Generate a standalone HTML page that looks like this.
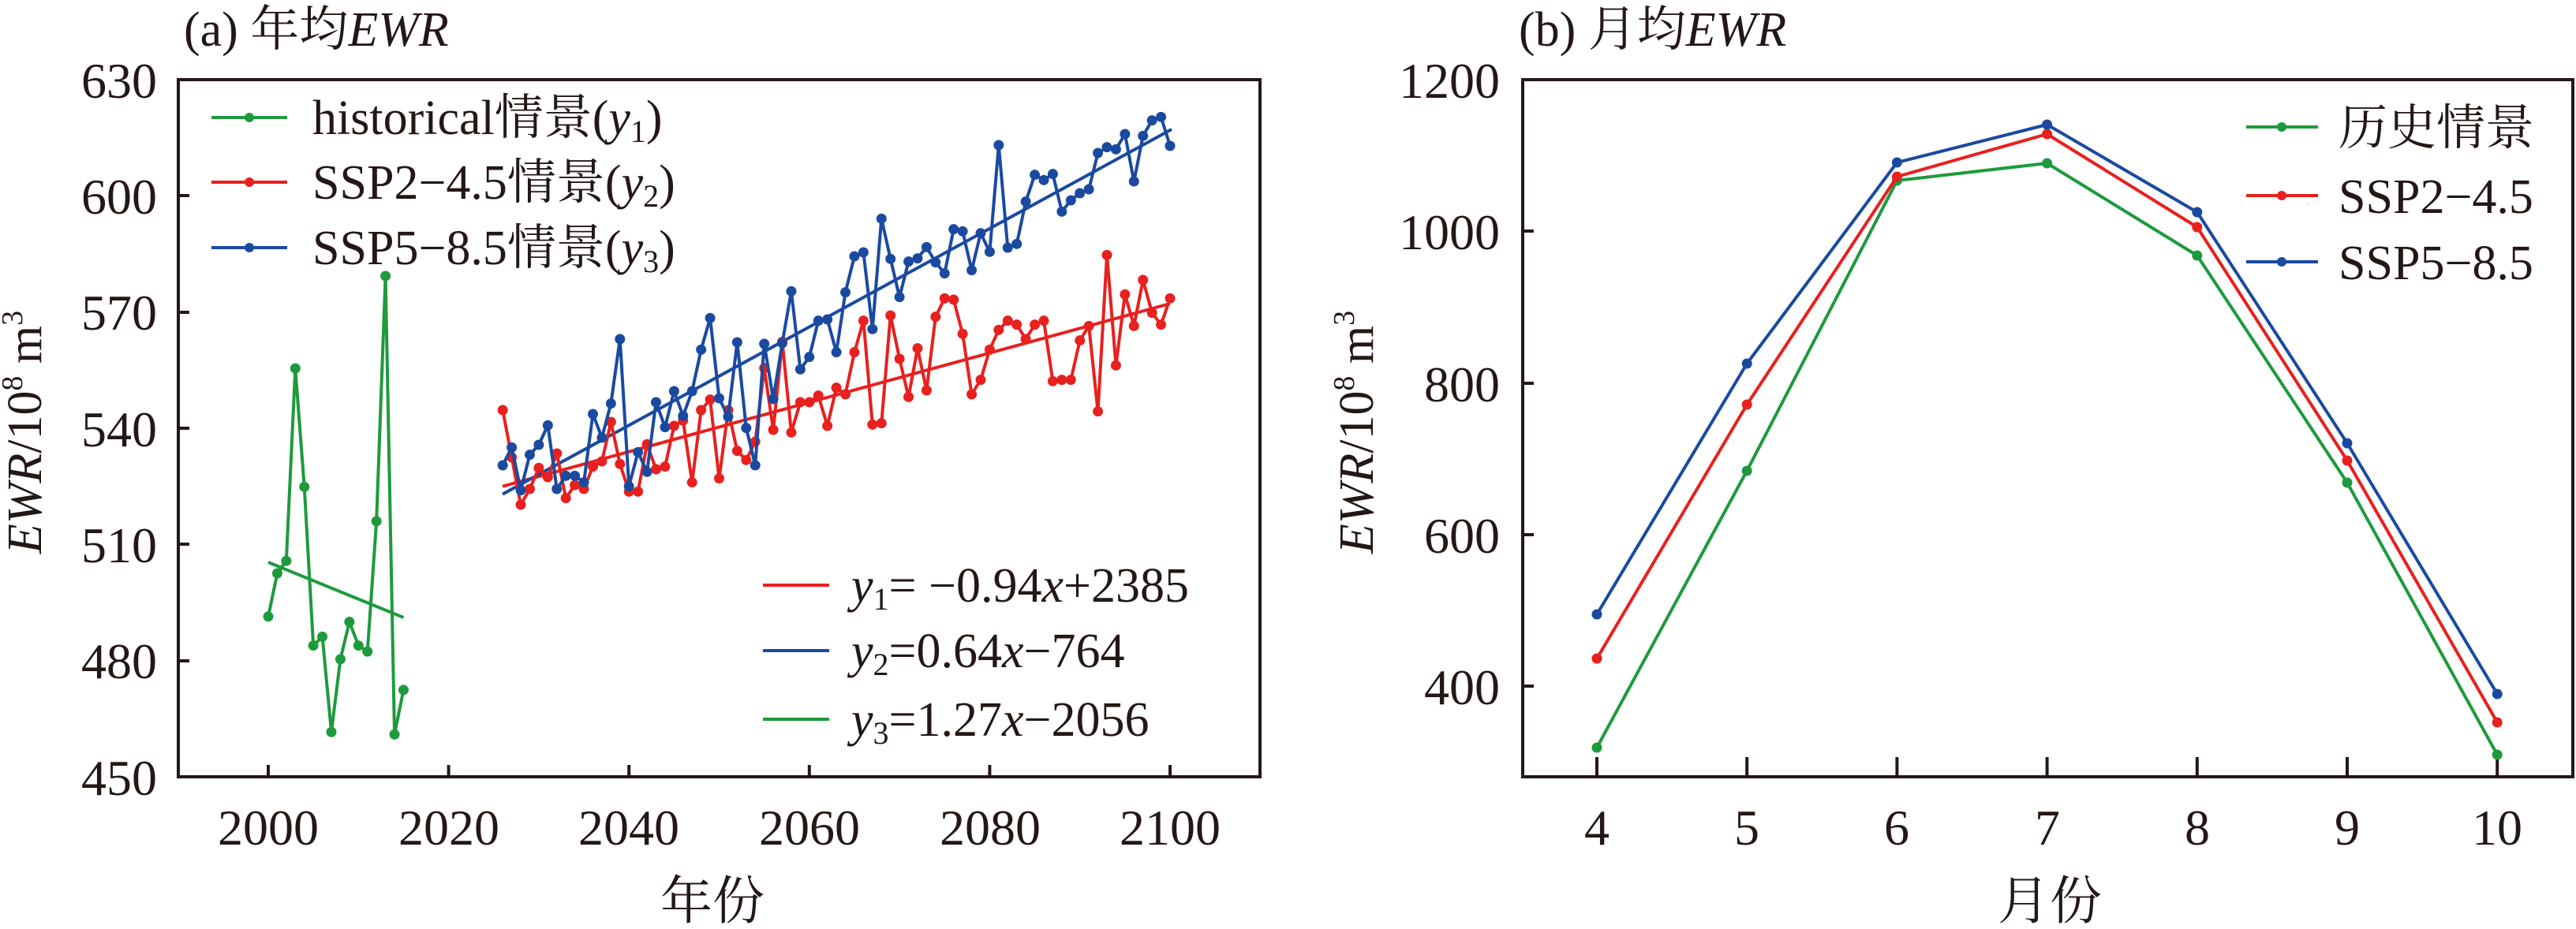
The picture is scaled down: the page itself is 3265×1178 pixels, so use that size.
<!DOCTYPE html>
<html><head><meta charset="utf-8">
<style>
html,body{margin:0;padding:0;background:#fff;}
svg{display:block;}
text{font-family:"Liberation Serif","Noto Serif CJK SC","Noto Sans CJK SC",serif;fill:#231815;}
</style></head>
<body>
<svg id="s" width="3265" height="1178" viewBox="0 0 3265 1178" xmlns="http://www.w3.org/2000/svg">
<g id="g"></g>
<!-- left chart frame -->
<rect x="226" y="101" width="1371" height="884" fill="none" stroke="#231815" stroke-width="4"/>
<rect x="1930" y="101" width="1331" height="884" fill="none" stroke="#231815" stroke-width="4"/>
<!-- titles -->
<text x="233" y="58" font-size="62">(a) 年均<tspan font-style="italic">EWR</tspan></text>
<text x="1925" y="58" font-size="62">(b) 月均<tspan font-style="italic">EWR</tspan></text>
<!-- left y tick labels -->
<g font-size="64" text-anchor="end">
<text x="199" y="124">630</text><text x="199" y="271">600</text><text x="199" y="418">570</text>
<text x="199" y="566">540</text><text x="199" y="713">510</text><text x="199" y="860">480</text><text x="199" y="1008">450</text>
</g>
<g font-size="64" text-anchor="middle">
<text x="340" y="1071">2000</text><text x="569" y="1071">2020</text><text x="797" y="1071">2040</text>
<text x="1026" y="1071">2060</text><text x="1255" y="1071">2080</text><text x="1483" y="1071">2100</text>
<text x="903" y="1165" font-size="66">年份</text>
</g>
<text transform="translate(52,548) rotate(-90)" font-size="62" text-anchor="middle"><tspan font-style="italic">EWR</tspan>/10<tspan font-size="38" dy="-24">8</tspan><tspan dy="24"> m</tspan><tspan font-size="38" dy="-24">3</tspan></text>
<!-- right y ticks -->
<g font-size="64" text-anchor="end">
<text x="1901" y="124">1200</text><text x="1901" y="316">1000</text><text x="1901" y="509">800</text>
<text x="1901" y="701">600</text><text x="1901" y="893">400</text>
</g>
<g font-size="64" text-anchor="middle">
<text x="2024" y="1071">4</text><text x="2214" y="1071">5</text><text x="2404" y="1071">6</text><text x="2595" y="1071">7</text>
<text x="2785" y="1071">8</text><text x="2975" y="1071">9</text><text x="3165" y="1071">10</text>
<text x="2598" y="1165" font-size="66">月份</text>
</g>
<text transform="translate(1740,548) rotate(-90)" font-size="62" text-anchor="middle"><tspan font-style="italic">EWR</tspan>/10<tspan font-size="38" dy="-24">8</tspan><tspan dy="24"> m</tspan><tspan font-size="38" dy="-24">3</tspan></text>
<!-- left legend -->
<g font-size="62">
<line x1="268" y1="149" x2="364" y2="149" stroke="#1e9a3c" stroke-width="4"/><circle cx="316" cy="149" r="6" fill="#1e9a3c"/>
<line x1="268" y1="231" x2="364" y2="231" stroke="#e8201e" stroke-width="4"/><circle cx="316" cy="231" r="6" fill="#e8201e"/>
<line x1="268" y1="314" x2="364" y2="314" stroke="#1a4aa0" stroke-width="4"/><circle cx="316" cy="314" r="6" fill="#1a4aa0"/>
<text x="396" y="170">historical情景(<tspan font-style="italic">y</tspan><tspan font-size="40" dy="10">1</tspan><tspan dy="-10">)</tspan></text>
<text x="396" y="252">SSP2−4.5情景(<tspan font-style="italic">y</tspan><tspan font-size="40" dy="10">2</tspan><tspan dy="-10">)</tspan></text>
<text x="396" y="335">SSP5−8.5情景(<tspan font-style="italic">y</tspan><tspan font-size="40" dy="10">3</tspan><tspan dy="-10">)</tspan></text>
<line x1="967" y1="742" x2="1051" y2="742" stroke="#e8201e" stroke-width="4"/>
<line x1="967" y1="825" x2="1051" y2="825" stroke="#1a4aa0" stroke-width="4"/>
<line x1="967" y1="912" x2="1051" y2="912" stroke="#1e9a3c" stroke-width="4"/>
<text x="1079" y="763"><tspan font-style="italic">y</tspan><tspan font-size="40" dy="10">1</tspan><tspan dy="-10">= −0.94</tspan><tspan font-style="italic">x</tspan>+2385</text>
<text x="1079" y="846"><tspan font-style="italic">y</tspan><tspan font-size="40" dy="10">2</tspan><tspan dy="-10">=0.64</tspan><tspan font-style="italic">x</tspan>−764</text>
<text x="1079" y="933"><tspan font-style="italic">y</tspan><tspan font-size="40" dy="10">3</tspan><tspan dy="-10">=1.27</tspan><tspan font-style="italic">x</tspan>−2056</text>
</g>
<!-- right legend -->
<g font-size="62">
<line x1="2847" y1="161" x2="2938" y2="161" stroke="#1e9a3c" stroke-width="4"/><circle cx="2892" cy="161" r="6" fill="#1e9a3c"/>
<line x1="2847" y1="248" x2="2938" y2="248" stroke="#e8201e" stroke-width="4"/><circle cx="2892" cy="248" r="6" fill="#e8201e"/>
<line x1="2847" y1="332" x2="2938" y2="332" stroke="#1a4aa0" stroke-width="4"/><circle cx="2892" cy="332" r="6" fill="#1a4aa0"/>
<text x="2964" y="183">历史情景</text>
<text x="2964" y="270">SSP2−4.5</text>
<text x="2964" y="354">SSP5−8.5</text>
</g>
</svg>
<script>
var NS="http://www.w3.org/2000/svg",g=document.getElementById("g");
function el(n,a){var e=document.createElementNS(NS,n);for(var k in a)e.setAttribute(k,a[k]);g.appendChild(e);return e;}
function series(pts,c){el("polyline",{points:pts.map(function(p){return p[0]+","+p[1]}).join(" "),fill:"none",stroke:c,"stroke-width":4,"stroke-linejoin":"round"});
pts.forEach(function(p){el("circle",{cx:p[0],cy:p[1],r:6.5,fill:c});});}
var G="#1e9a3c",R="#e8201e",B="#1a4aa0";
function yx(y){return 340+(y-2000)*11.43;}
// ticks
[2000,2020,2040,2060,2080,2100].forEach(function(y){var x=yx(y);el("line",{x1:x,y1:985,x2:x,y2:970,stroke:"#231815","stroke-width":4});});
[101,248,396,543,690,838].forEach(function(y){el("line",{x1:226,y1:y,x2:240,y2:y,stroke:"#231815","stroke-width":4});});
for(var m=0;m<7;m++){var x=2024+m*190.2;el("line",{x1:x,y1:985,x2:x,y2:960,stroke:"#231815","stroke-width":4});}
[101,293,486,678,870].forEach(function(y){el("line",{x1:1930,y1:y,x2:1944,y2:y,stroke:"#231815","stroke-width":4});});
// historical
var hy=[1041,968,947,622,822,1090,1075,1236,1113,1050,1090,1100,880,466,1240,1165];
series(hy.map(function(v,i){return [yx(2000+i),v*0.751];}),G);
el("line",{x1:yx(2000),y1:713,x2:yx(2015),y2:783,stroke:G,"stroke-width":4});
// red & blue from zoom coords
var r3=[1140,1320,1500,1440,1360,1395,1305,1475,1425,1440,1355,1335,1185,1345,1450,1450,1270,1365,1355,1200,1180,1415,1140,1100,1400,1140,1295,1330,1260,980,1215,880,1225,1110,1110,1085,1200,1055,1080];
var r4=[920,800,1195,1190,780,945,1090,905,1065,785,715,720,850,1080,1025,910,835,800,815,870,815,800,1030,1025,1025,875,820,1145,550,970,700,820,645,770,815,715];
var b3=[1350,1282,1445,1310,1272,1198,1440,1390,1390,1415,1155,1245,1115,870,1430,1300,1375,1110,1205,1068,1162,1068,910,790,1095,1165,882,1208,1350,888,1098,885,688,985,938,800,795,920,692];
var b4=[555,540,832,412,565,710,575,563,520,578,620,452,460,608,467,538,132,522,508,347,245,265,242,385,342,315,300,162,140,148,90,270,97,38,25,135];
function conv(a3,a4){var p=[];a3.forEach(function(v,i){p.push([yx(2026+i),140+v/3]);});a4.forEach(function(v,i){p.push([yx(2065+i),140+v/3]);});return p;}
el("line",{x1:637,y1:140+1430/3,x2:1483,y2:140+735/3,stroke:R,"stroke-width":4});
el("line",{x1:637,y1:140+1460/3,x2:1485,y2:140+72/3,stroke:B,"stroke-width":4});
series(conv(r3,r4),R);
series(conv(b3,b4),B);
// monthly
function mp(a){return a.map(function(v,i){return [2024+i*190.2,v];});}
series(mp([948,597,229,207,324,612,957]),G);
series(mp([835,513,224,170,288,584,916]),R);
series(mp([779,461,206,158,269,562,880]),B);
</script>
</body></html>
